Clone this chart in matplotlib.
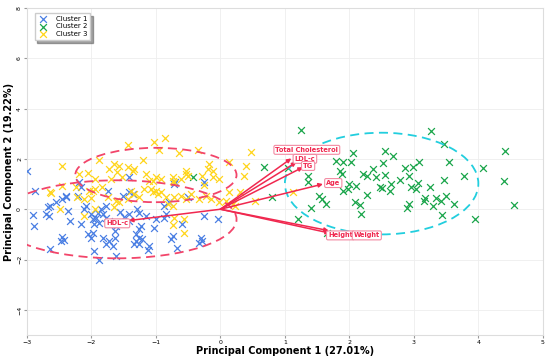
import matplotlib.pyplot as plt
from matplotlib.patches import Ellipse

# Data: PCA scores per cluster
c1_x = [-3.0, -2.87, -2.91, -2.89, -2.68, -2.65, -2.71, -2.66, -2.55, -2.4, -2.37, -2.34, -2.16, -2.11,
        -2.46, -2.42, -2.47, -2.65, -2.01, -1.98, -1.93, -1.9, -1.85, -1.82, -1.77, -1.72, -1.88, -1.96,
        -2.08, -1.77, -2.06, -2.01, -1.98, -1.82, -1.77, -1.72, -1.64, -1.67, -1.96, -1.88, -1.64, -1.62,
        -1.62, -1.42, -1.42, -1.29, -1.26, -1.23, -1.26, -1.31, -1.26, -1.31, -1.21, -1.26, -1.34, -1.03,
        -1.0, -0.87, -1.13, -1.1, -0.74, -0.77, -0.67, -0.3, -0.28, -0.33, -0.25, -0.03, -0.25, -0.7,
        -0.79, -0.87, -0.84, -1.42, -1.75, -2.19, -2.16, -2.4, -2.45, -2.21, -1.51, -1.42, -1.36, -0.72,
        -0.51, -1.5, -1.55, -1.15, -0.6]
c1_y = [1.5, 0.73, -0.23, -0.67, 0.07, 0.13, -0.2, -0.27, 0.27, 0.47, -0.07, -0.47, -0.6, 0.0,
        -1.11, -1.24, -1.27, -1.57, -0.2, -0.4, -0.33, -0.13, 0.0, -0.2, -0.33, -0.47, -0.53, -0.6,
        0.13, 0.13, -1.0, -1.13, -0.93, -1.13, -1.4, -1.27, -1.13, -1.47, -1.67, -2.0, -0.87, -0.67,
        -1.87, -0.2, -0.47, 0.0, -0.13, -0.67, -0.8, -1.0, -1.13, -1.27, -1.2, -1.4, -1.4, -0.73,
        -0.4, -0.33, -1.6, -1.47, -1.07, -1.2, -1.53, -1.13, -1.27, -1.33, -0.27, -0.4, 1.07, 1.09,
        0.29, 0.13, -0.2, 0.67, 0.73, 1.07, 0.87, 0.53, 0.4, 0.53, 0.53, 1.27, 0.6, 1.0,
        0.47, -0.3, -0.1, -0.25, -0.6]

c2_x = [3.26, 3.46, 4.41, 2.55, 2.68, 3.54, 2.52, 3.08, 2.86, 2.99, 4.07, 2.55, 2.93, 3.78, 2.78,
        3.46, 4.39, 2.65, 3.07, 2.51, 2.63, 2.95, 3.04, 3.25, 3.17, 3.35, 3.5, 3.16, 3.42, 3.62,
        2.93, 3.3, 2.9, 4.56, 3.43, 3.95, 1.25, 2.06, 1.8, 1.9, 2.03, 0.67, 1.05, 1.85, 2.37,
        2.21, 2.27, 2.42, 1.36, 1.36, 2.0, 2.11, 2.47, 1.9, 1.98, 2.27, 1.53, 1.58, 0.8, 2.08,
        2.16, 1.4, 2.18, 1.2, 1.65, 1.64, 1.88, -0.43]
c2_y = [3.11, 2.6, 2.33, 2.31, 2.13, 1.89, 1.83, 1.87, 1.63, 1.67, 1.64, 1.36, 1.33, 1.33, 1.16,
        1.15, 1.11, 1.0, 1.04, 0.84, 0.73, 0.87, 0.8, 0.87, 0.45, 0.44, 0.51, 0.33, 0.33, 0.2,
        0.2, 0.11, 0.03, 0.17, -0.23, -0.4, 3.13, 2.23, 1.93, 1.87, 1.87, 1.69, 1.63, 1.53, 1.6,
        1.4, 1.33, 1.27, 1.31, 1.07, 1.0, 0.93, 0.87, 0.73, 0.8, 0.56, 0.51, 0.4, 0.47, 0.29,
        0.17, 0.03, -0.2, -0.37, -0.93, 0.2, 1.4, 1.29]

c3_x = [-1.44, -1.03, -0.86, -0.95, -0.34, 0.14, -2.45, -1.89, -1.2, -0.64, -0.17, -2.19, -2.05,
        -1.94, -1.73, -1.65, -1.57, -1.44, -1.36, -1.34, -1.6, -1.52, -1.7, -1.16, -1.1, -1.05,
        -1.0, -0.92, -0.74, -0.72, -0.61, -0.53, -0.28, -0.12, -0.02, -0.12, -0.25, -2.04, -1.94,
        -1.83, -1.75, -1.39, -1.34, -1.26, -1.18, -1.08, -1.05, -1.0, -0.97, -0.92, -0.85, -0.74,
        -0.72, -0.61, -0.53, -0.46, -0.33, -0.22, -0.14, -0.02, 0.09, 0.19, -2.12, -2.01, -2.48,
        -2.22, -1.65, -1.62, -1.57, -1.44, -2.12, -1.94, -0.74, -0.56, -0.56, -2.62, 0.3, -2.65,
        -2.45, -2.24, -1.98, -0.72, -0.82, -0.74, 0.48, 0.4, 0.37, 1.12, 0.53, 0.14, 0.22,
        -0.2, -0.53, -0.51]
c3_y = [2.56, 2.69, 2.84, 2.37, 2.36, 1.87, 1.73, 1.97, 1.96, 2.23, 1.8, 1.4, 1.43,
        1.2, 1.6, 1.8, 1.73, 1.67, 1.53, 1.6, 1.47, 1.27, 1.2, 1.4, 1.13, 1.13,
        1.27, 1.2, 1.27, 1.07, 1.2, 1.4, 1.33, 1.27, 1.2, 1.53, 0.95, 0.73, 0.8,
        0.87, 0.5, 0.73, 0.6, 0.47, 0.8, 0.8, 0.67, 0.73, 0.6, 0.67, 0.47, 1.13,
        0.47, 0.53, 0.4, 0.6, 0.4, 0.53, 0.4, 0.27, 0.33, 0.2, 0.4, 0.44, 0.0,
        0.47, 0.07, 0.33, 0.27, 0.4, -0.27, 0.0, -0.64, -0.93, -0.4, 0.64, 0.67, 0.67,
        0.93, 0.87, 0.73, -0.33, 0.2, 0.13, 2.27, 1.71, 1.31, 0.67, 0.33, 0.67, 0.13,
        1.6, 1.53, 1.33]

# loadings (arrow tips) and label positions
var_names = ['Total Cholesterol', 'LDL-c', 'TG', 'Age', 'Height', 'Weight', 'HDL-c']
arrow_x = [1.1, 1.18, 1.28, 1.59, 1.7, 1.68, -1.42]
arrow_y = [2.02, 1.87, 1.67, 1.0, -0.95, -0.85, -0.45]
label_x = [1.34, 1.31, 1.36, 1.75, 1.86, 2.27, -1.6]
label_y = [2.36, 2.0, 1.72, 1.04, -1.04, -1.04, -0.56]

# confidence ellipses: center x, center y, width, height
ell_cx = [-1.6, 2.5, -1.0]
ell_cy = [-0.4, 1.02, 1.36]
ell_w = [3.7, 3.0, 2.5]
ell_h = [3.1, 4.04, 2.16]

colors = ['#4a7fe3', '#1aa54a', '#ffd51c']
ell_colors = ['#f2456a', '#22cede', '#f2456a']
red = '#f0284f'

fig, ax = plt.subplots(figsize=(5.5, 3.58), dpi=100)
fig.subplots_adjust(left=0.049, right=0.987, bottom=0.064, top=0.978)

for xs, ys, c, name in [(c1_x, c1_y, colors[0], 'Cluster 1'),
                        (c2_x, c2_y, colors[1], 'Cluster 2'),
                        (c3_x, c3_y, colors[2], 'Cluster 3')]:
    ax.scatter(xs, ys, marker='x', s=24, c=c, linewidths=0.9, label=name, zorder=3)

for cx, cy, w, h, ec in zip(ell_cx, ell_cy, ell_w, ell_h, ell_colors):
    ax.add_patch(Ellipse((cx, cy), w, h, fill=False, ec=ec, lw=1.3,
                         ls=(0, (5, 3)), zorder=4))

for ax_, ay_, lx, ly, nm in zip(arrow_x, arrow_y, label_x, label_y, var_names):
    ax.annotate('', xy=(ax_, ay_), xytext=(0, 0),
                arrowprops=dict(arrowstyle='-|>', color=red, lw=1.1,
                                mutation_scale=6, shrinkA=0, shrinkB=0),
                zorder=5)
    ax.text(lx, ly, nm, fontsize=4.8, fontweight='bold', color=red,
            ha='center', va='center', zorder=6,
            bbox=dict(boxstyle='round,pad=0.22', fc='white', ec='#f38aa2', lw=0.8))

ax.set_xlim(-3, 5)
ax.set_ylim(-5, 8)
ax.set_xticks(range(-3, 6))
ax.set_yticks([-4, -2, 0, 2, 4, 6, 8])
ax.grid(True, color='#eeeeee', lw=0.6, zorder=0)
ax.set_axisbelow(True)
ax.tick_params(labelsize=4.5, length=2, color='#999999', pad=1.5)
plt.setp(ax.get_yticklabels(), rotation=90, va='center')
for sp in ax.spines.values():
    sp.set_color('#dddddd')

ax.set_xlabel('Principal Component 1 (27.01%)', fontsize=7, fontweight='bold', labelpad=1)
ax.set_ylabel('Principal Component 2 (19.22%)', fontsize=7, fontweight='bold', labelpad=2)

ax.legend(loc='upper left', fontsize=5, shadow=True, fancybox=False,
          framealpha=1, edgecolor='#cccccc', borderpad=0.4, labelspacing=0.25,
          handletextpad=1.2, handlelength=1.5,
          bbox_to_anchor=(0.008, 0.995))

fig.savefig('out.png', dpi=100)
